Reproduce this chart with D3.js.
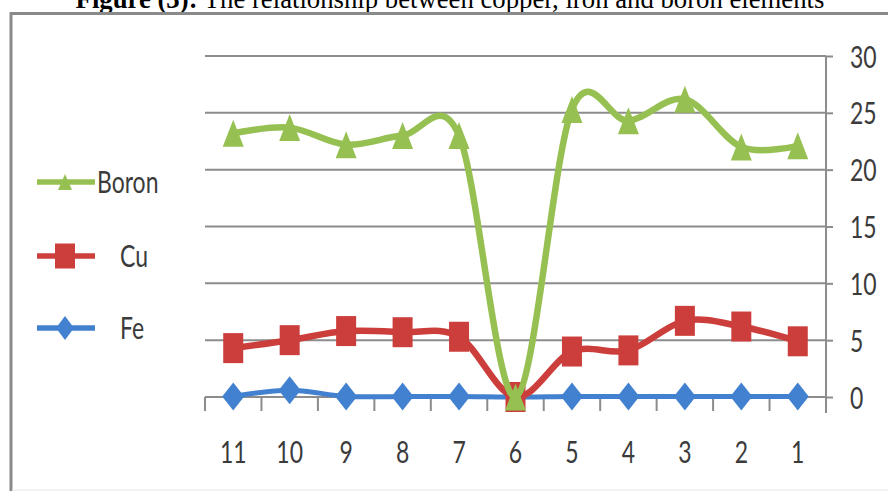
<!DOCTYPE html>
<html>
<head>
<meta charset="utf-8">
<script src="https://cdn.jsdelivr.net/npm/d3@7"></script>
<style>
  html, body { margin: 0; padding: 0; background: #fff; }
  svg { display: block; }
</style>
</head>
<body>
<svg id="chart" width="888" height="491"></svg>
<script>
// Sample numbers along the category axis (drawn from 11 down to 1)
const categories = ["11", "10", "9", "8", "7", "6", "5", "4", "3", "2", "1"];
// Element concentrations per sample
const boron = [23.2, 23.7, 22.2, 23.0, 23.0, 0, 25.3, 24.3, 26.2, 22.0, 22.1];
const cu    = [4.3, 5.0, 5.8, 5.7, 5.3, 0, 4.0, 4.1, 6.7, 6.2, 4.9];
const fe    = [0.05, 0.6, 0.05, 0.05, 0.05, 0, 0.05, 0.05, 0.05, 0.05, 0.05];
const yTicks = [0, 5, 10, 15, 20, 25, 30];
const seriesNames = ["Boron", "Cu", "Fe"];
const titleBold = "Figure (3):";
const titleRest = " The relationship between copper, iron and boron elements";

const svg = d3.select("#chart");
const W = 888, H = 491;
const plot = { left: 205, right: 826, top: 56, bottom: 397 };
const FONT = "Lato, 'Open Sans', sans-serif";
const TEXT = "#3b3b3b";
const GRID = "#8c8c8c";
const SY = 1.33; // tall, narrow label lettering

const x = d3.scaleBand().domain(categories).range([plot.left, plot.right]).padding(0);
const y = d3.scaleLinear().domain([0, 30]).range([plot.bottom, plot.top]);
const cx = c => x(c) + x.bandwidth() / 2;

svg.append("rect").attr("width", W).attr("height", H).attr("fill", "#fff");

// Title (its top runs off the page edge)
const title = svg.append("text")
  .attr("x", 450).attr("y", 8)
  .attr("text-anchor", "middle")
  .attr("font-family", "'Liberation Serif', 'Times New Roman', serif")
  .attr("font-size", 24)
  .attr("fill", "#000");
title.append("tspan").attr("font-weight", "bold").text(titleBold);
title.append("tspan").text(titleRest);
const tw = title.node().getComputedTextLength();
if (tw > 0) title.attr("font-size", 24 * 749 / tw);

// Chart frame
svg.append("line").attr("x1", 10).attr("x2", W).attr("y1", 13.5).attr("y2", 13.5)
  .attr("stroke", "#8a8a8a").attr("stroke-width", 3);
svg.append("line").attr("x1", 11).attr("x2", 11).attr("y1", 12).attr("y2", H)
  .attr("stroke", "#8a8a8a").attr("stroke-width", 3);
svg.append("line").attr("x1", 12).attr("x2", W).attr("y1", 490).attr("y2", 490)
  .attr("stroke", "#e6e6e6").attr("stroke-width", 1);

// Horizontal gridlines
svg.append("g").selectAll("line").data(yTicks).join("line")
  .attr("x1", plot.left).attr("x2", plot.right)
  .attr("y1", d => y(d)).attr("y2", d => y(d))
  .attr("stroke", GRID).attr("stroke-width", 2);

// Right value axis
const yAxis = svg.append("g")
  .attr("transform", `translate(${plot.right},0)`)
  .call(d3.axisRight(y).tickValues(yTicks).tickSize(7).tickSizeOuter(0));
yAxis.select(".domain").remove();
yAxis.selectAll(".tick line").attr("stroke", GRID).attr("stroke-width", 2);
yAxis.selectAll(".tick text")
  .attr("x", null).attr("dy", null)
  .attr("transform", `translate(24,11) scale(1,${SY})`)
  .attr("font-family", FONT).attr("font-size", 23).attr("fill", TEXT)
  .attr("text-anchor", "start");
svg.append("line").attr("x1", plot.right).attr("x2", plot.right)
  .attr("y1", plot.top).attr("y2", plot.bottom + 16)
  .attr("stroke", GRID).attr("stroke-width", 2);

// Category axis: labels at band centres, tick marks at band edges
const xAxis = svg.append("g")
  .attr("transform", `translate(0,${plot.bottom})`)
  .call(d3.axisBottom(x).tickSize(0).tickSizeOuter(0));
xAxis.select(".domain").remove();
xAxis.selectAll(".tick text")
  .attr("y", null).attr("dy", null)
  .attr("transform", `translate(0,66) scale(1,${SY})`)
  .attr("font-family", FONT).attr("font-size", 23).attr("fill", TEXT);
const edges = categories.map(c => x(c)).concat([plot.right]);
svg.append("g").selectAll("line").data(edges).join("line")
  .attr("x1", d => d).attr("x2", d => d)
  .attr("y1", plot.bottom).attr("y2", plot.bottom + 14)
  .attr("stroke", GRID).attr("stroke-width", 2);

// Marker shapes, centred on the point
const shapes = {
  tri: (w, h) => `M0,${-h / 2}L${w / 2},${h / 2}L${-w / 2},${h / 2}Z`,
  sq:  (w, h) => `M${-w / 2},${-h / 2}H${w / 2}V${h / 2}H${-w / 2}Z`,
  dia: (w, h) => `M0,${-h / 2}L${w / 2},0L0,${h / 2}L${-w / 2},0Z`
};

const series = [
  { name: seriesNames[2], values: fe,    color: "#4281cf", width: 5,   shape: "dia", mw: 22, mh: 28, lw: 18, lh: 24, ly: 328, tx: 120 },
  { name: seriesNames[1], values: cu,    color: "#cc3e3b", width: 6.5, shape: "sq",  mw: 20, mh: 30, lw: 20, lh: 25, ly: 256, tx: 120 },
  { name: seriesNames[0], values: boron, color: "#96c152", width: 6.5, shape: "tri", mw: 21, mh: 27, lw: 14, lh: 16, ly: 182, tx: 97 }
];

const line = d3.line()
  .x((d, i) => cx(categories[i]))
  .y(d => y(d))
  .curve(d3.curveCardinal.tension(0));

series.forEach(s => {
  const g = svg.append("g");
  g.append("path").attr("d", line(s.values))
    .attr("fill", "none").attr("stroke", s.color)
    .attr("stroke-width", s.width).attr("stroke-linejoin", "round");
  g.selectAll("path.m").data(s.values).join("path").attr("class", "m")
    .attr("d", shapes[s.shape](s.mw, s.mh))
    .attr("transform", (d, i) => `translate(${cx(categories[i])},${y(d)})`)
    .attr("fill", s.color);

  // Legend entry
  const lg = svg.append("g");
  lg.append("line").attr("x1", 37).attr("x2", 95).attr("y1", s.ly).attr("y2", s.ly)
    .attr("stroke", s.color).attr("stroke-width", 5.5);
  lg.append("path").attr("d", shapes[s.shape](s.lw, s.lh))
    .attr("transform", `translate(65,${s.ly})`).attr("fill", s.color);
  lg.append("text").text(s.name)
    .attr("transform", `translate(${s.tx},${s.ly + 11}) scale(1,${SY})`)
    .attr("font-family", FONT).attr("font-size", 23).attr("fill", TEXT);
});
</script>
</body>
</html>
